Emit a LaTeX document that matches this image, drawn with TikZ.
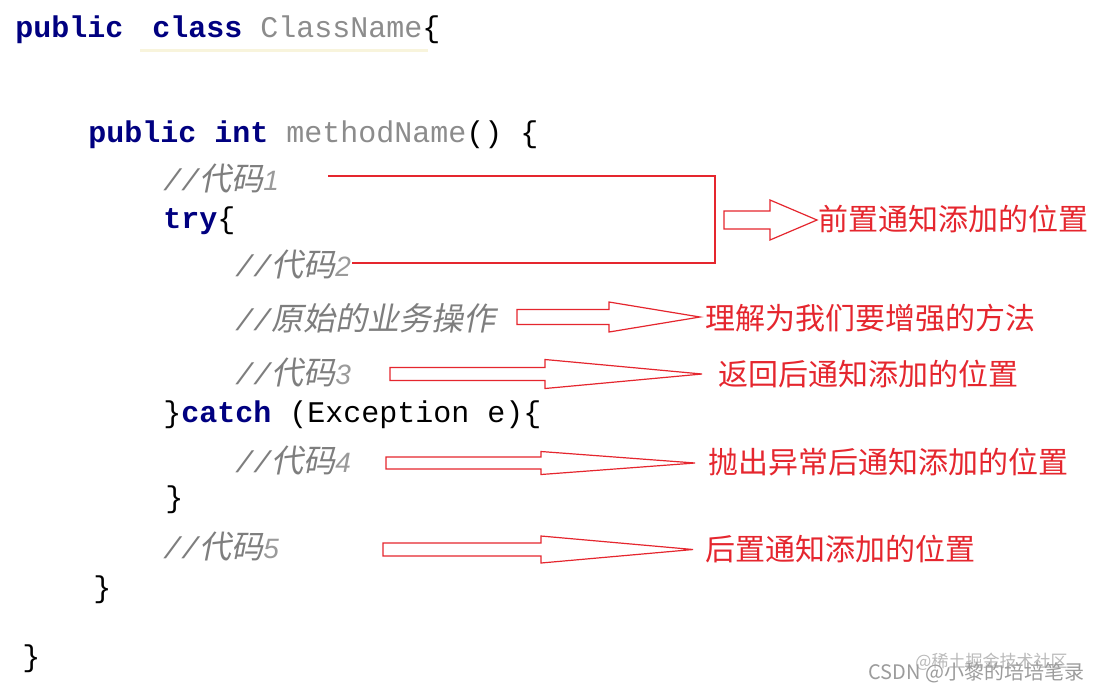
\documentclass[tikz,border=0pt]{standalone}
\usepackage{fontspec}
\setmonofont{Liberation Mono}
\newfontfamily\cjkfont{Noto Sans CJK SC}
\newfontfamily\cjkslant[FakeSlant=0.2]{Noto Sans CJK SC}
\newfontfamily\digitfont{Liberation Sans}
\usetikzlibrary{calc}
\definecolor{codeNavy}{HTML}{000080}
\definecolor{codeGray}{HTML}{8C8C8C}
\definecolor{codeComment}{HTML}{7E7E7E}
\definecolor{codeDigit}{HTML}{9A9A9A}
\definecolor{markRed}{HTML}{E5262E}
\definecolor{markYellow}{HTML}{F8F4DC}
\definecolor{waterGray}{HTML}{9C9C9C}
\tikzset{
  code line/.style={anchor=base west, inner sep=0pt, font=\ttfamily\fontsize{15}{18}\selectfont},
  advice label/.style={anchor=west, inner sep=0pt, text=markRed, font=\cjkfont\fontsize{15}{18}\selectfont},
  advice arrow/.style={draw=markRed, line width=0.6pt, line join=miter},
  mark line/.style={draw=markRed, line width=0.6pt},
  class mark/.style={draw=markYellow, line width=1.5pt},
  water label/.style={anchor=west, inner sep=0pt, font=\cjkfont},
}
\newcommand{\kw}[1]{\textcolor{codeNavy}{\bfseries #1}}
\newcommand{\ident}[1]{\textcolor{codeGray}{#1}}
\newcommand{\cmt}[2]{\textcolor{codeComment}{\itshape//{\cjkslant\fontsize{16}{18}\selectfont #1}{\color{codeDigit}\digitfont\itshape\fontsize{14}{16}\selectfont #2}}}
% block arrow: tail, tip, head length, shaft half width, head half width
\newcommand{\blockarrow}[5]{%
  \draw[advice arrow] let \p1=(#1), \p2=(#2) in
    (\x1,\y1+#4) -- (\x2-#3,\y1+#4) -- (\x2-#3,\y1+#5) -- (\x2,\y1)
    -- (\x2-#3,\y1-#5) -- (\x2-#3,\y1-#4) -- (\x1,\y1-#4) -- cycle;}

\begin{document}
\begin{tikzpicture}[x=0.5pt, y=-0.5pt]
  \fill[white] (0,0) rectangle (1095,692);

  % code
  \draw[class mark] (140,50) -- (428,50);
  \node[code line] (pub) at (15,37) {\kw{public}};
  \node[code line] (cls) at (152,37) {\kw{class} \ident{ClassName}\{};
  \node[code line] (mth) at (88,142) {\kw{public} \kw{int} \ident{methodName}() \{};
  \node[code line] (c1) at (163,190) {\cmt{代码}{1}};
  \node[code line] (try) at (163,228) {\kw{try}\{};
  \node[code line] (c2) at (235,276) {\cmt{代码}{2}};
  \node[code line] (biz) at (235,330) {\cmt{原始的业务操作}{}};
  \node[code line] (c3) at (235,384) {\cmt{代码}{3}};
  \node[code line] (catch) at (163,422) {\}\kw{catch} (Exception e)\{};
  \node[code line] (c4) at (235,472) {\cmt{代码}{4}};
  \node[code line] (tryend) at (165,507) {\}};
  \node[code line] (c5) at (163,558) {\cmt{代码}{5}};
  \node[code line] (mthend) at (93,597) {\}};
  \node[code line] (clsend) at (22,666) {\}};

  % bracket round code 1 and code 2
  \coordinate (brTop) at (328,176);
  \coordinate (brBot) at (352,263);
  \coordinate (brJoin) at (715,263);
  \draw[mark line] (brTop) -- (brTop -| brJoin) -- (brJoin) -- (brBot);

  % labels
  \node[advice label] (lb1) at (818,219) {前置通知添加的位置};
  \node[advice label] (lb2) at (705,318) {理解为我们要增强的方法};
  \node[advice label] (lb3) at (718,374) {返回后通知添加的位置};
  \node[advice label] (lb4) at (708,462) {抛出异常后通知添加的位置};
  \node[advice label] (lb5) at (705,549) {后置通知添加的位置};

  % arrows
  \coordinate (a1) at (724,220);  \coordinate (t1) at (817,220);
  \coordinate (a2) at (517,317);  \coordinate (t2) at (700,317);
  \coordinate (a3) at (390,374);  \coordinate (t3) at (702,374);
  \coordinate (a4) at (386,463);  \coordinate (t4) at (695,463);
  \coordinate (a5) at (383,549.5);\coordinate (t5) at (693,549.5);
  \blockarrow{a1}{t1}{23.5pt}{4.5pt}{10pt}
  \blockarrow{a2}{t2}{45.5pt}{3.75pt}{7.5pt}
  \blockarrow{a3}{t3}{78.5pt}{3.25pt}{7.25pt}
  \blockarrow{a4}{t4}{77pt}{3pt}{5.75pt}
  \blockarrow{a5}{t5}{76pt}{3.25pt}{6.75pt}

  % watermark
  \node[water label, text=waterGray!70, font=\cjkfont\fontsize{8.5}{10}\selectfont] (wm1) at (915,662) {@稀土掘金技术社区};
  \node[water label, text=waterGray, font=\cjkfont\fontsize{10}{12}\selectfont] (wm2) at (868,673) {CSDN @小黎的培培笔录};
\end{tikzpicture}
\end{document}
